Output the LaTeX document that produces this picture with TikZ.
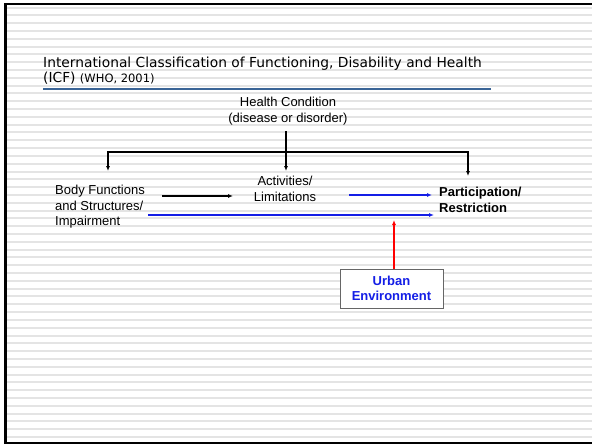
\documentclass[tikz,border=0pt]{standalone}
\usepackage{fontspec}
\setmainfont{Liberation Sans}
\newfontfamily\titlefont{DejaVu Sans}
\usetikzlibrary{arrows.meta}
\definecolor{stripe}{RGB}{228,228,228}
\definecolor{rulebl}{RGB}{58,100,150}
\definecolor{linkbl}{RGB}{20,30,230}
\tikzset{
  body/.style={font=\fontsize{13}{15.5}\selectfont, inner sep=1pt},
  blk/.style={line width=1.6pt, black},
  blkarr/.style={blk, -{Latex[length=5pt,width=4pt]}},
  bluarr/.style={line width=1.4pt, linkbl, -{Latex[length=5pt,width=4pt]}},
  redarr/.style={line width=1.6pt, red, -{Latex[length=5pt,width=4pt]}},
  envbox/.style={draw=gray!80!black, line width=0.8pt, fill=white, minimum width=103pt, minimum height=39pt, inner sep=0pt, align=center, text=linkbl, font=\fontsize{13}{15.5}\selectfont\bfseries}
}
\begin{document}
\begin{tikzpicture}[x=1pt,y=-1pt]
\useasboundingbox (0,0) rectangle (592,445);
\fill[white] (0,0) rectangle (592,445);
% stripes
\foreach \k in {0,...,55} {
  \draw[stripe, line width=2pt] (7,7.5+\k*7.81) -- (592,7.5+\k*7.81);
}
% border
\draw[black, line width=2.2pt] (592,4) -- (5.5,4) -- (5.5,443) -- (592,443);
% title
\node[anchor=base west, inner sep=0pt, font=\titlefont\fontsize{13.8}{16}\selectfont] (t1) at (43,67.5) {International Classification of Functioning, Disability and Health};
\node[anchor=base west, inner sep=0pt, font=\titlefont\fontsize{13.8}{16}\selectfont] (t2) at (43,82.5) {(ICF) {\fontsize{11.5}{13}\selectfont(WHO, 2001)}};
\draw[rulebl, line width=2pt] (43,88.5) -- (491,88.5);
% nodes
\node[body, align=center] (hc) at (288,111) {Health Condition\\(disease or disorder)};
\node[body, align=left, anchor=west] (bf) at (54,207) {Body Functions\\and Structures/\\Impairment};
\node[body, align=center] (act) at (285,189) {Activities/\\Limitations};
\node[body, align=left, anchor=west, font=\fontsize{13}{15.5}\selectfont\bfseries] (par) at (438,200) {Participation/\\Restriction};
\node[envbox] (env) at (391.5,288.5) {Urban\\Environment};
% coordinates
\coordinate (top) at (286,131);
\coordinate (j) at (286,152);
\coordinate (c1) at (108,171);
\coordinate (c2) at (286,171);
\coordinate (c3) at (468,176);
\coordinate (a1s) at (162,196);
\coordinate (a1e) at (233,196);
\coordinate (a2s) at (349,195);
\coordinate (a2e) at (432,195);
\coordinate (a3s) at (148,215);
\coordinate (a3e) at (434,215);
\coordinate (rt) at (394,220);
% connectors
\draw[blk] (top) -- (j);
\draw[blkarr] (j) -| (c1);
\draw[blkarr] (j) -- (c2);
\draw[blkarr] (j) -| (c3);
\draw[blkarr] (a1s) -- (a1e);
\draw[bluarr] (a2s) -- (a2e);
\draw[bluarr] (a3s) -- (a3e);
\draw[redarr] (env.north -| rt) -- (rt);
\end{tikzpicture}
\end{document}
